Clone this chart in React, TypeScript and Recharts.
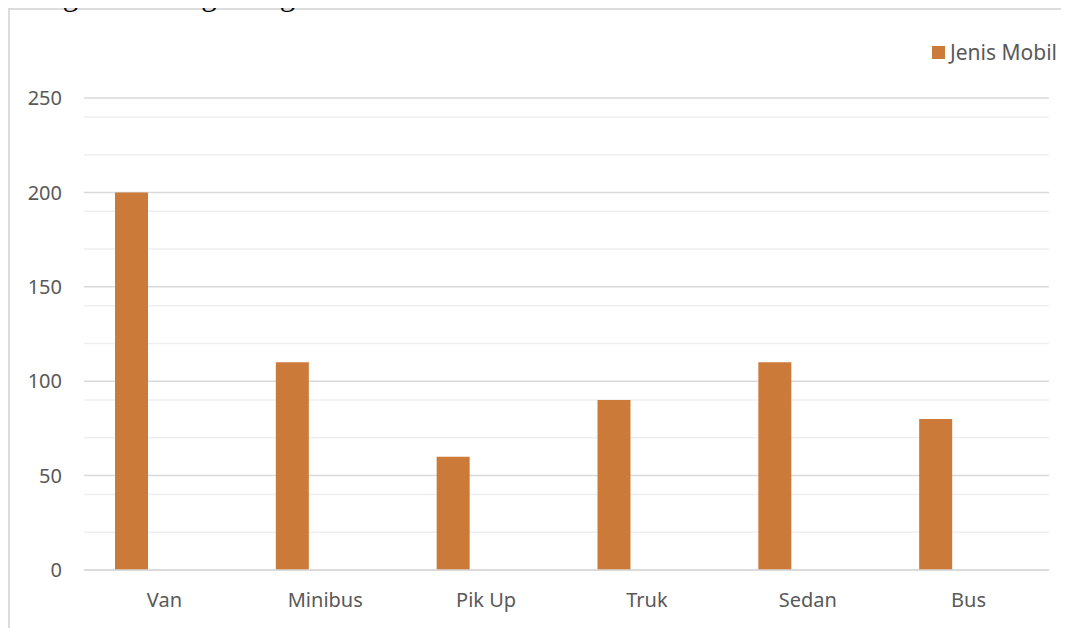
import React from "react";
import { BarChart, Bar, XAxis, YAxis, CartesianGrid } from "recharts";

const categories = ["Van", "Minibus", "Pik Up", "Truk", "Sedan", "Bus"];
const jenisMobil = [200, 110, 60, 90, 110, 80];
const yTicks = [0, 50, 100, 150, 200, 250];
const minorTicks = [10, 20, 30, 40, 60, 70, 80, 90, 110, 120, 130, 140, 160, 170, 180, 190, 210, 220, 230, 240];
const seriesName = "Jenis Mobil";

const data = categories.map((c, i) => ({ name: c, v: jenisMobil[i], e1: null, e2: null }));

const FONT = "'Noto Sans', 'Open Sans', sans-serif";
const BAR_COLOR = "#CC7A3A";

export default function App() {
  return (
    <div style={{ position: "relative", width: 1061, height: 620 }}>
      <div
        style={{
          position: "absolute",
          left: 0,
          top: 0,
          width: 1061,
          height: 640,
          borderTop: "2px solid #dcdcdc",
          borderLeft: "2px solid #dcdcdc",
          boxSizing: "border-box",
        }}
      />
      <div style={{ position: "absolute", left: 0, top: 0 }}>
        <BarChart
          width={1061}
          height={620}
          data={data}
          margin={{ top: 90, right: 20, bottom: 28, left: 0 }}
          barSize={33}
          barGap={0}
        >
          <CartesianGrid vertical={false} horizontalValues={minorTicks} stroke="#efefef" strokeWidth={1.5} />
          <CartesianGrid vertical={false} horizontalValues={yTicks} stroke="#d9d9d9" strokeWidth={1.5} />
          <XAxis
            dataKey="name"
            axisLine={{ stroke: "#d9d9d9", strokeWidth: 1.5 }}
            tickLine={false}
            tickSize={0}
            tickMargin={23}
            height={30}
            interval={0}
            tick={{ fill: "#595959", fontSize: 20, fontFamily: FONT }}
          />
          <YAxis
            width={76}
            domain={[0, 250]}
            ticks={yTicks}
            axisLine={false}
            tickLine={false}
            tickSize={0}
            tickMargin={22}
            tick={{ fill: "#595959", fontSize: 20, fontFamily: FONT }}
          />
          <Bar dataKey="v" name={seriesName} fill={BAR_COLOR} isAnimationActive={false} />
          <Bar dataKey="e1" fill={BAR_COLOR} isAnimationActive={false} legendType="none" />
          <Bar dataKey="e2" fill={BAR_COLOR} isAnimationActive={false} legendType="none" />
        </BarChart>
      </div>
      <div
        style={{
          position: "absolute",
          left: 924,
          top: 30,
          display: "flex",
          alignItems: "center",
          fontFamily: FONT,
          fontSize: 21,
          color: "#595959",
          whiteSpace: "nowrap",
        }}
      >
        <span style={{ display: "inline-block", width: 13, height: 13, background: BAR_COLOR, marginRight: 5 }} />
        <span>{seriesName}</span>
      </div>
      <div
        style={{
          position: "absolute",
          left: 10,
          top: -30,
          lineHeight: "34px",
          fontFamily: "'Liberation Serif', serif",
          fontSize: 31,
          whiteSpace: "nowrap",
          color: "#000",
        }}
      >
        Diagram batang sebagai berikut.
      </div>
    </div>
  );
}
